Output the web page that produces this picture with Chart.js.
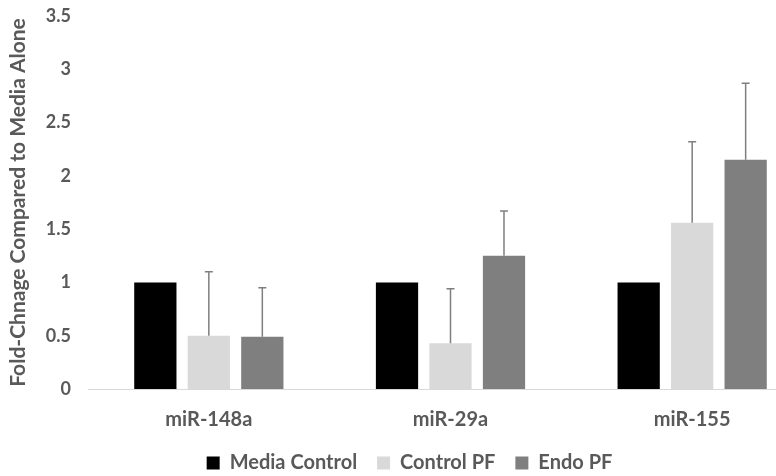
<!DOCTYPE html>
<html>
<head>
<meta charset="utf-8">
<script src="https://cdn.jsdelivr.net/npm/chart.js@4"></script>
<style>
  html, body { margin: 0; padding: 0; background: #fff; overflow: hidden; }
  #wrap { width: 830px; height: 476px; }
</style>
</head>
<body>
<div id="wrap"><canvas id="barchart" width="830" height="476"></canvas></div>
<script>
const categories = ["miR-148a", "miR-29a", "miR-155"];
const seriesNames = ["Media Control", "Control PF", "Endo PF"];
const mediaControl = [1, 1, 1];
const controlPF = [0.50, 0.43, 1.56];
const endoPF = [0.49, 1.25, 2.15];
// upper error bar lengths (plus only)
const controlPFErr = [0.60, 0.51, 0.76];
const endoPFErr = [0.46, 0.42, 0.72];
const yTicks = [0, 0.5, 1, 1.5, 2, 2.5, 3, 3.5];

const textColor = "#595959";
const fontFamily = "Lato, 'Open Sans', sans-serif";

// draws plus-only error bars with a cap on top
const errorBars = {
  id: "errorBars",
  afterDatasetsDraw(chart) {
    const ctx = chart.ctx;
    const y = chart.scales.y;
    chart.data.datasets.forEach((ds, di) => {
      if (!ds.errors) return;
      const meta = chart.getDatasetMeta(di);
      meta.data.forEach((bar, i) => {
        const top = y.getPixelForValue(ds.data[i] + ds.errors[i]);
        ctx.save();
        ctx.strokeStyle = "#7f7f7f";
        ctx.lineWidth = 1.5;
        ctx.beginPath();
        ctx.moveTo(bar.x, bar.y);
        ctx.lineTo(bar.x, top);
        ctx.moveTo(bar.x - 4, top);
        ctx.lineTo(bar.x + 4, top);
        ctx.stroke();
        ctx.restore();
      });
    });
  }
};

new Chart(document.getElementById("barchart"), {
  type: "bar",
  data: {
    labels: categories,
    datasets: [
      { label: seriesNames[0], data: mediaControl, backgroundColor: "#000000" },
      { label: seriesNames[1], data: controlPF, backgroundColor: "#d9d9d9", errors: controlPFErr },
      { label: seriesNames[2], data: endoPF, backgroundColor: "#7f7f7f", errors: endoPFErr }
    ]
  },
  options: {
    responsive: false,
    animation: false,
    events: [],
    layout: { padding: { top: 16, right: 17, left: 6, bottom: -7 } },
    datasets: { bar: { categoryPercentage: 0.664, barPercentage: 0.79 } },
    plugins: {
      tooltip: { enabled: false },
      legend: {
        position: "bottom",
        labels: {
          color: textColor,
          font: { family: fontFamily, size: 20, weight: "bold" },
          boxWidth: 13,
          boxHeight: 13,
          padding: 20
        }
      }
    },
    scales: {
      x: {
        afterFit(scale) { scale.height = 44; },
        grid: { display: false, drawTicks: false },
        border: { display: true, color: "#d9d9d9", width: 1 },
        ticks: {
          color: textColor,
          font: { family: fontFamily, size: 20, weight: "bold" },
          padding: 19
        }
      },
      y: {
        min: 0,
        max: 3.5,
        afterBuildTicks(scale) {
          scale.ticks = yTicks.map(v => ({ value: v }));
        },
        afterFit(scale) {
          scale.width = 82;
          scale.paddingTop = 10;
          scale.paddingBottom = 10;
        },
        grid: { display: false, drawTicks: false },
        border: { display: false },
        ticks: {
          color: textColor,
          font: { family: fontFamily, size: 18, weight: "bold" },
          padding: 17,
          callback: v => String(v)
        },
        title: {
          display: true,
          text: "Fold-Chnage Compared to Media Alone",
          color: textColor,
          font: { family: fontFamily, size: 21, weight: "bold" },
          padding: 0
        }
      }
    }
  },
  plugins: [errorBars]
});
</script>
</body>
</html>
